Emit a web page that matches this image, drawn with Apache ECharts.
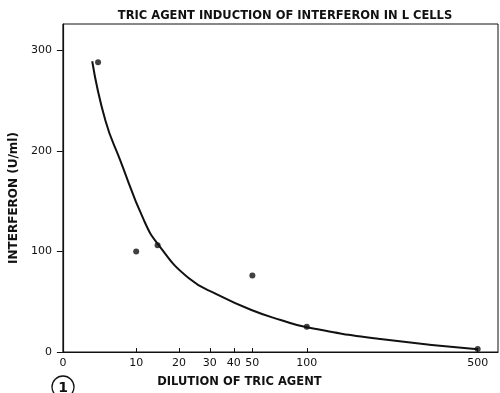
<!DOCTYPE html>
<html>
<head>
<meta charset="utf-8">
<script src="https://cdn.jsdelivr.net/npm/echarts@6/dist/echarts.min.js"></script>
<style>
  html, body { margin: 0; padding: 0; background: #fff; }
  #chart { width: 500px; height: 393px; }
</style>
</head>
<body>
<div id="chart"></div>
<script>
// measured points
const dilution = [4.8, 10, 15, 50, 100, 500];
const interferon = [288, 100, 106, 76, 25, 3];

// hand-drawn fitted curve
const fitDilution = [4, 5.8, 7.8, 11.8, 15.3, 23.1, 33.6, 49.5, 76, 100, 272, 500];
const fitInterferon = [289, 230, 191, 131, 106, 73.5, 56.6, 41.7, 31.8, 24.5, 12.9, 2.7];

// the x axis of the original is hand spaced (not linear, not log)
const xTicks = [0, 10, 20, 30, 40, 50, 100, 500];
const xTickScale = [0, 73.6, 116.6, 147.6, 171.6, 190.3, 245, 416.6];
const yTicks = [0, 100, 200, 300];

function xScale(v) {
  for (let i = 1; i < xTicks.length; i++) {
    if (v <= xTicks[i]) {
      const t = (v - xTicks[i - 1]) / (xTicks[i] - xTicks[i - 1]);
      return xTickScale[i - 1] + t * (xTickScale[i] - xTickScale[i - 1]);
    }
  }
  return xTickScale[xTickScale.length - 1];
}

const font = "DejaVu Sans";
const ink = "#111";
const chart = echarts.init(document.getElementById("chart"));

chart.setOption({
  animation: false,
  title: {
    text: "TRIC AGENT INDUCTION OF INTERFERON IN L CELLS",
    left: 280,
    textAlign: "center",
    top: 5,
    textStyle: { fontFamily: font, fontSize: 11.5, fontWeight: "bold", color: ink },
  },
  grid: {
    left: 61,
    right: 2,
    top: 24,
    bottom: 41,
    show: true,
    borderColor: ink,
    borderWidth: 1,
  },
  xAxis: {
    type: "value",
    min: 0,
    max: 437,
    name: "DILUTION OF TRIC AGENT",
    nameLocation: "middle",
    nameGap: 24,
    nameTextStyle: {
      fontFamily: font, fontSize: 11.5, fontWeight: "bold", color: ink,
      padding: [0, 82, 0, 0],
    },
    splitLine: { show: false },
    axisLine: { lineStyle: { color: ink, width: 1.2 } },
    axisTick: { customValues: xTickScale, inside: true, length: 4, lineStyle: { color: ink } },
    axisLabel: {
      customValues: xTickScale,
      formatter: (v) => {
        const i = xTickScale.findIndex((p) => Math.abs(p - v) < 0.01);
        return i >= 0 ? String(xTicks[i]) : "";
      },
      fontFamily: font, fontSize: 11, color: ink, margin: 6,
    },
  },
  yAxis: {
    type: "value",
    min: 0,
    max: 326,
    name: "INTERFERON (U/ml)",
    nameLocation: "middle",
    nameGap: 42,
    nameTextStyle: {
      fontFamily: font, fontSize: 12, fontWeight: "bold", color: ink,
      padding: [0, 20, 0, 0],
    },
    splitLine: { show: false },
    axisLine: { show: true, lineStyle: { color: ink, width: 1.2 } },
    axisTick: { show: true, customValues: yTicks, length: 6, lineStyle: { color: ink } },
    axisLabel: { customValues: yTicks, fontFamily: font, fontSize: 11, color: ink, margin: 11 },
  },
  graphic: [
    {
      type: "circle",
      x: 63,
      y: 387,
      shape: { r: 11 },
      style: { fill: "none", stroke: ink, lineWidth: 1.3 },
    },
    {
      type: "text",
      x: 63,
      y: 388,
      style: {
        text: "1", font: "bold 14px " + font, fill: ink,
        align: "center", verticalAlign: "middle",
      },
    },
  ],
  series: [
    {
      type: "line",
      smooth: 0.5,
      showSymbol: false,
      lineStyle: { color: ink, width: 2 },
      data: fitDilution.map((d, i) => [xScale(d), fitInterferon[i]]),
      z: 2,
    },
    {
      type: "scatter",
      symbol: "circle",
      symbolSize: 6,
      itemStyle: { color: ink },
      data: dilution.map((d, i) => [xScale(d), interferon[i]]),
      z: 3,
    },
  ],
});
</script>
</body>
</html>
